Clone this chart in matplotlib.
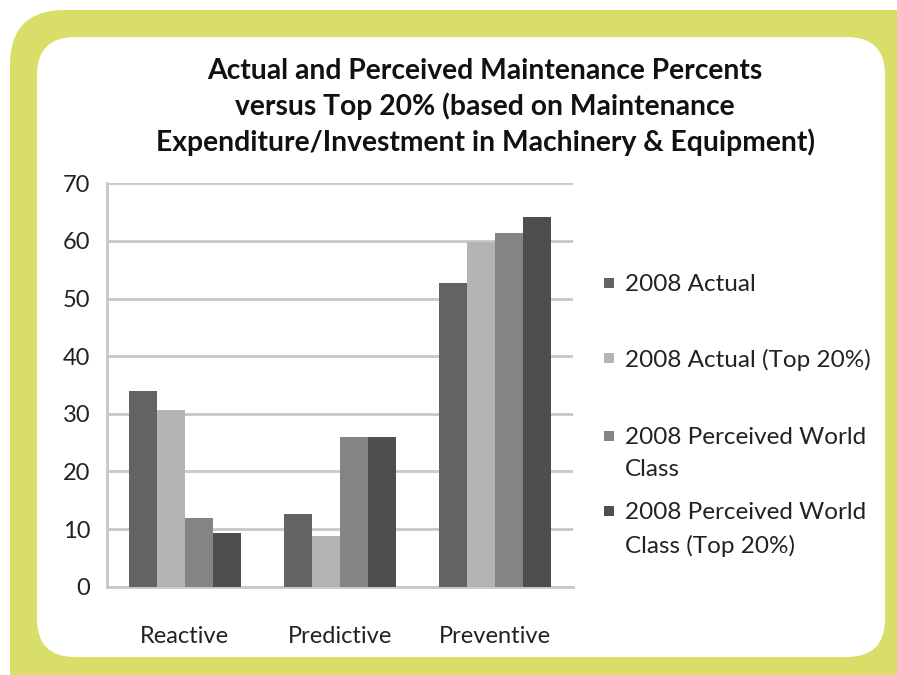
import matplotlib.pyplot as plt
import numpy as np
from matplotlib.patches import FancyBboxPatch, Rectangle
from matplotlib.transforms import IdentityTransform

plt.rcParams['font.family'] = ['Lato', 'DejaVu Sans']

categories = ["Reactive", "Predictive", "Preventive"]
series = ["2008 Actual", "2008 Actual (Top 20%)",
          "2008 Perceived World\nClass", "2008 Perceived World\nClass (Top 20%)"]
actual = [34.0, 12.7, 52.7]
actual_top = [30.7, 8.8, 59.9]
perceived = [12.0, 26.0, 61.4]
perceived_top = [9.3, 26.0, 64.2]
values = [actual, actual_top, perceived, perceived_top]
colors = ["#636363", "#b4b4b4", "#848484", "#4e4e4e"]

W, H = 897, 675
fig = plt.figure(figsize=(W / 100, H / 100), dpi=100, facecolor="white")

# yellow frame with rounded white panel (pixel coordinates)
frame = FancyBboxPatch((10, -60), 950, 725,
                       boxstyle="round,pad=0,rounding_size=55",
                       transform=IdentityTransform(), facecolor="#d8de68",
                       edgecolor="none", zorder=0)
fig.patches.append(frame)
panel = FancyBboxPatch((37, 18), 848, 620,
                       boxstyle="round,pad=0,rounding_size=38",
                       transform=IdentityTransform(), facecolor="white",
                       edgecolor="none", zorder=0)
fig.patches.append(panel)

ax = fig.add_axes([107 / W, 1 - 586.7 / H, 466 / W, 403.4 / H])
ax.set_zorder(2)
ax.set_facecolor("none")

x = np.arange(len(categories))
bw = 0.18
for i, vals in enumerate(values):
    ax.bar(x + (i - 1.5) * bw, vals, bw, color=colors[i], zorder=3,
           label=series[i])

ax.set_xlim(-0.5, 2.5)
ax.set_ylim(0, 70)
ax.set_yticks(range(0, 71, 10))
ax.set_xticks(x)
ax.set_xticklabels(categories)
ax.grid(axis="y", color="#c8c8c8", linewidth=2)
ax.tick_params(length=0, labelsize=17, colors="#222222")
ax.tick_params(axis="x", pad=28)
ax.tick_params(axis="y", pad=12)
for s in ["top", "right"]:
    ax.spines[s].set_visible(False)
for s in ["left", "bottom"]:
    ax.spines[s].set_color("#c8c8c8")
    ax.spines[s].set_linewidth(2)

fig.text(485 / W, 1 - 107 / H,
         "Actual and Perceived Maintenance Percents\n"
         "versus Top 20% (based on Maintenance\n"
         "Expenditure/Investment in Machinery & Equipment)",
         ha="center", va="center", fontsize=20.3, fontweight="bold",
         linespacing=1.38, color="#111111", zorder=3)

# legend entries
leg_y = [283, 358, 436, 511]
for lab, c, yy in zip(series, colors, leg_y):
    fig.patches.append(Rectangle((604 / W, 1 - (yy + 5) / H), 10 / W, 10 / H,
                                 transform=fig.transFigure, facecolor=c,
                                 edgecolor="none", zorder=3))
    fig.text(625 / W, 1 - (yy - 9) / H, lab, ha="left", va="top",
             fontsize=17.5, color="#222222", linespacing=1.65, zorder=3)

fig.savefig("out.png", dpi=100)
